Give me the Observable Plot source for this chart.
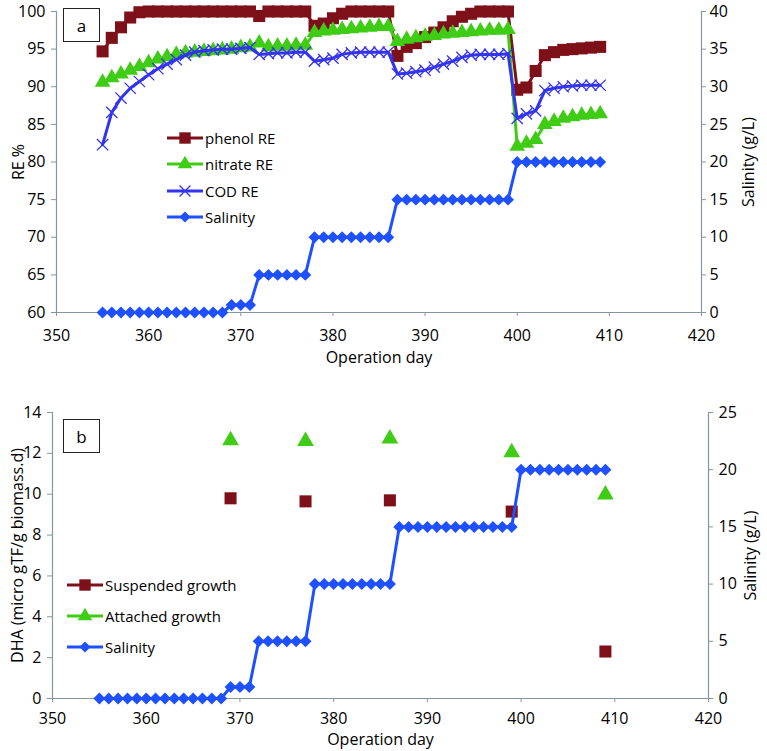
<!DOCTYPE html>
<html><head><meta charset="utf-8">
<script src="https://cdn.jsdelivr.net/npm/d3@7"></script>
<script src="https://cdn.jsdelivr.net/npm/@observablehq/plot@0.6"></script>
<style>
body{margin:0;background:#fff;}
#wrap{position:relative;width:767px;height:751px;font-family:"Open Sans",sans-serif;overflow:hidden;}
.panel{position:absolute;left:0;}
.tag{position:absolute;border:1px solid #222;box-sizing:border-box;display:flex;align-items:center;justify-content:center;font-size:17px;background:#fff;color:#000}
.lrow{position:absolute;display:flex;align-items:center;white-space:nowrap;font-size:15px;color:#000;height:18px}
.lrow svg{display:block;margin-right:2px}
</style></head>
<body><div id="wrap"></div>
<script>
// ---------- data ----------
const days = [355,356,357,358,359,360,361,362,363,364,365,366,367,368,369,370,371,372,373,374,375,376,377,378,379,380,381,382,383,384,385,386,387,388,389,390,391,392,393,394,395,396,397,398,399,400,401,402,403,404,405,406,407,408,409];
const phenolRE = [94.7,96.5,97.9,99.2,99.9,100,100,100,100,100,100,100,100,100,100,100,100,99.4,100,100,100,100,100,98.1,98.4,99.1,99.7,100,100,100,100,100,94.1,95.3,95.8,96.6,97.2,97.9,98.7,99.3,99.7,100,100,100,100,89.6,89.9,92.1,94.2,94.6,94.9,95.0,95.1,95.2,95.3];
const nitrateRE = [90.6,91.2,91.7,92.2,92.7,93.2,93.7,94.0,94.3,94.5,94.6,94.7,94.8,94.9,95.0,95.2,95.3,95.8,95.3,95.4,95.4,95.5,95.5,97.2,97.4,97.5,97.6,97.7,97.8,97.9,98.0,98.0,96.0,96.3,96.5,96.7,96.8,97.0,97.1,97.2,97.3,97.4,97.5,97.5,97.6,82.1,82.5,83.0,85.0,85.4,85.8,86.0,86.2,86.3,86.4];
const codRE = [82.3,86.6,88.5,89.8,90.7,91.6,92.4,93.0,93.6,94.2,94.6,94.8,94.9,95.0,95.0,95.1,95.2,94.3,94.4,94.5,94.5,94.6,94.6,93.4,93.6,93.8,94.3,94.5,94.6,94.6,94.6,94.6,91.7,91.8,92.0,92.2,92.6,93.0,93.4,93.9,94.2,94.3,94.3,94.3,94.4,85.8,86.4,86.8,89.5,89.8,90.0,90.1,90.2,90.2,90.2];
const salinity = [0,0,0,0,0,0,0,0,0,0,0,0,0,0,1,1,1,5,5,5,5,5,5,10,10,10,10,10,10,10,10,10,15,15,15,15,15,15,15,15,15,15,15,15,15,20,20,20,20,20,20,20,20,20,20];

const dhaDays = [369,377,386,399,409];
const suspendedDHA = [9.8,9.65,9.7,9.15,2.3];
const attachedDHA = [12.63,12.6,12.72,12.05,9.98];

const xTicks = [350,360,370,380,390,400,410,420];
const reTicks = [60,65,70,75,80,85,90,95,100];
const salTicksA = [0,5,10,15,20,25,30,35,40];
const dhaTicks = [0,2,4,6,8,10,12,14];
const salTicksB = [0,5,10,15,20,25];

// ---------- style ----------
const C = {phenol:"#7e1019", nitrate:"#3fcc14", cod:"#3333f0", sal:"#1e50ff", axis:"#8497a0"};
const FONT = "Open Sans, sans-serif";

// secondary-axis mappings
const salToRE = s => 60 + s * (100 - 60) / 40;
const reToSal = v => (v - 60) * 40 / (100 - 60);
const salToDHA = s => s * 14 / 25;
const dhaToSal = v => v * 25 / 14;

const rowsA = days.map((d, i) => ({day: d, phenol: phenolRE[i], nitrate: nitrateRE[i], cod: codRE[i], sal: salinity[i]}));
const rowsB = dhaDays.map((d, i) => ({day: d, susp: suspendedDHA[i], att: attachedDHA[i]}));

const wrap = document.getElementById("wrap");

// ---------- panel a ----------
const plotA = Plot.plot({
  width: 767, height: 365,
  marginLeft: 56, marginRight: 66, marginTop: 11, marginBottom: 53,
  style: {fontFamily: FONT, fontSize: "16px", color: "#000", background: "transparent", overflow: "visible"},
  x: {domain: [350, 420]},
  y: {domain: [60, 100]},
  marks: [
    Plot.ruleY([60], {stroke: C.axis, strokeWidth: 1.2}),
    Plot.ruleX([350], {stroke: C.axis, strokeWidth: 1.2}),
    Plot.ruleX([420], {stroke: C.axis, strokeWidth: 1.2}),
    Plot.axisX({ticks: xTicks, tickSize: 4, tickPadding: 13, stroke: C.axis, fontSize: 16,
      label: "Operation day", labelAnchor: "center", labelOffset: 50, labelArrow: false}),
    Plot.axisY({anchor: "left", ticks: reTicks, tickSize: 5, tickPadding: 6, stroke: C.axis, fontSize: 16,
      label: "RE %", labelAnchor: "center", labelOffset: 44, labelArrow: false}),
    Plot.axisY({anchor: "right", ticks: salTicksA.map(salToRE), tickFormat: v => String(Math.round(reToSal(v))),
      tickSize: 4, tickPadding: 4, stroke: C.axis, fontSize: 16,
      label: "Salinity (g/L)", labelAnchor: "center", labelOffset: 52, labelArrow: false}),
    // phenol
    Plot.line(rowsA, {x: "day", y: "phenol", stroke: C.phenol, strokeWidth: 3}),
    Plot.dot(rowsA, {x: "day", y: "phenol", symbol: "square", r: 6.8, fill: C.phenol}),
    // nitrate
    Plot.line(rowsA, {x: "day", y: "nitrate", stroke: C.nitrate, strokeWidth: 3}),
    Plot.dot(rowsA, {x: "day", y: "nitrate", symbol: "triangle", r: 5.8, fill: C.nitrate}),
    // COD
    Plot.line(rowsA, {x: "day", y: "cod", stroke: C.cod, strokeWidth: 3}),
    Plot.dot(rowsA, {x: "day", y: "cod", symbol: "times", r: 5.2, stroke: C.cod, strokeWidth: 1.3}),
    // salinity on secondary axis
    Plot.line(rowsA, {x: "day", y: d => salToRE(d.sal), stroke: C.sal, strokeWidth: 3}),
    Plot.dot(rowsA, {x: "day", y: d => salToRE(d.sal), symbol: "diamond2", r: 5.4, fill: C.sal})
  ]
});
plotA.classList.add("panel");
plotA.style.top = "0px";
wrap.appendChild(plotA);

// ---------- panel b ----------
const plotB = Plot.plot({
  width: 767, height: 386,
  marginLeft: 52, marginRight: 59, marginTop: 47, marginBottom: 53,
  style: {fontFamily: FONT, fontSize: "16px", color: "#000", background: "transparent", overflow: "visible"},
  x: {domain: [350, 420]},
  y: {domain: [0, 14]},
  marks: [
    Plot.ruleY([0], {stroke: C.axis, strokeWidth: 1.2}),
    Plot.ruleX([350], {stroke: C.axis, strokeWidth: 1.2}),
    Plot.ruleX([420], {stroke: C.axis, strokeWidth: 1.2}),
    Plot.axisX({ticks: xTicks, tickSize: 4, tickPadding: 10, stroke: C.axis, fontSize: 16,
      label: "Operation day", labelAnchor: "center", labelOffset: 46, labelArrow: false}),
    Plot.axisY({anchor: "left", ticks: dhaTicks, tickSize: 5, tickPadding: 6, stroke: C.axis, fontSize: 16,
      label: "DHA (micro gTF/g biomass.d)", labelAnchor: "center", labelOffset: 41, labelArrow: false}),
    Plot.axisY({anchor: "right", ticks: salTicksB.map(salToDHA), tickFormat: v => String(Math.round(dhaToSal(v))),
      tickSize: 4, tickPadding: 6, stroke: C.axis, fontSize: 16,
      label: "Salinity (g/L)", labelAnchor: "center", labelOffset: 47, labelArrow: false}),
    Plot.dot(rowsB, {x: "day", y: "susp", symbol: "square", r: 6.8, fill: C.phenol}),
    Plot.dot(rowsB, {x: "day", y: "att", symbol: "triangle", r: 6.2, fill: C.nitrate}),
    Plot.line(rowsA, {x: "day", y: d => salToDHA(d.sal), stroke: C.sal, strokeWidth: 3}),
    Plot.dot(rowsA, {x: "day", y: d => salToDHA(d.sal), symbol: "diamond2", r: 5.4, fill: C.sal})
  ]
});
plotB.classList.add("panel");
plotB.style.top = "365px";
wrap.appendChild(plotB);

// ---------- panel tags ----------
function tag(txt, left, top, w, h) {
  const el = document.createElement("div");
  el.className = "tag";
  el.style.left = left + "px"; el.style.top = top + "px";
  el.style.width = w + "px"; el.style.height = h + "px";
  el.textContent = txt;
  wrap.appendChild(el);
}
tag("a", 63, 8, 37, 34);
tag("b", 63, 419, 37, 34);

// ---------- legends ----------
function swatch(color, symbol, size, strokeOnly) {
  const w = 36, h = 18;
  const ns = "http://www.w3.org/2000/svg";
  const svg = document.createElementNS(ns, "svg");
  svg.setAttribute("width", w); svg.setAttribute("height", h);
  const line = document.createElementNS(ns, "line");
  line.setAttribute("x1", 0); line.setAttribute("x2", w);
  line.setAttribute("y1", h / 2); line.setAttribute("y2", h / 2);
  line.setAttribute("stroke", color); line.setAttribute("stroke-width", 3);
  svg.appendChild(line);
  const p = document.createElementNS(ns, "path");
  p.setAttribute("d", d3.symbol(symbol, size)());
  p.setAttribute("transform", `translate(${w / 2},${h / 2})`);
  if (strokeOnly) { p.setAttribute("fill", "none"); p.setAttribute("stroke", color); p.setAttribute("stroke-width", 1.3); }
  else p.setAttribute("fill", color);
  svg.appendChild(p);
  return svg;
}
function legend(items, left, tops) {
  items.forEach((it, i) => {
    const row = document.createElement("div");
    row.className = "lrow";
    row.style.left = left + "px";
    row.style.top = (tops[i] - 9) + "px";
    row.appendChild(swatch(it.color, it.symbol, it.size, it.strokeOnly));
    const t = document.createElement("span");
    t.textContent = it.label;
    row.appendChild(t);
    wrap.appendChild(row);
  });
}
const legendA = ["phenol RE", "nitrate RE", "COD RE", "Salinity"];
legend([
  {label: legendA[0], color: C.phenol, symbol: d3.symbolSquare, size: 130},
  {label: legendA[1], color: C.nitrate, symbol: d3.symbolTriangle, size: 90},
  {label: legendA[2], color: C.cod, symbol: d3.symbolTimes, size: 80, strokeOnly: true},
  {label: legendA[3], color: C.sal, symbol: d3.symbolDiamond2, size: 80}
], 167, [138, 164, 191, 217]);
const legendB = ["Suspended growth", "Attached growth", "Salinity"];
legend([
  {label: legendB[0], color: C.phenol, symbol: d3.symbolSquare, size: 130},
  {label: legendB[1], color: C.nitrate, symbol: d3.symbolTriangle, size: 90},
  {label: legendB[2], color: C.sal, symbol: d3.symbolDiamond2, size: 80}
], 67, [585, 616, 647]);
</script></body></html>
